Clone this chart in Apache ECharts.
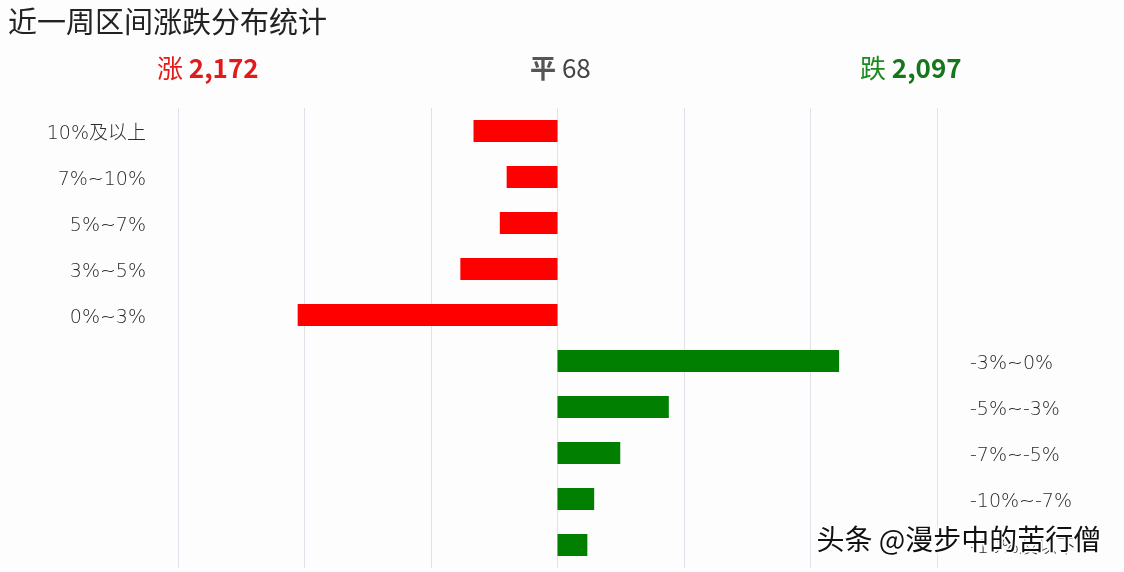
<!DOCTYPE html>
<html>
<head>
<meta charset="utf-8">
<script src="https://cdn.jsdelivr.net/npm/echarts@6/dist/echarts.min.js"></script>
<style>
html,body{margin:0;padding:0;background:#fdfdfe;}
#chart{width:1124px;height:572px;}
</style>
</head>
<body>
<div id="chart"></div>
<script>
var titleText = '近一周区间涨跌分布统计';
var upLabel = '涨', flatLabel = '平', downLabel = '跌';
var upTotal = 2172, flatTotal = 68, downTotal = 2097;
var upCategories = ['10%及以上', '7%~10%', '5%~7%', '3%~5%', '0%~3%'];
var downCategories = ['-3%~0%', '-5%~-3%', '-7%~-5%', '-10%~-7%', '-10%及以下'];
var upValues = [332, 201, 228, 384, 1027];
var downValues = [1113, 440, 248, 145, 118];
var watermark = '头条 @漫步中的苦行僧';

var categories = upCategories.concat(downCategories);
var nUp = upCategories.length;
var redData = categories.map(function (c, i) { return i < nUp ? -upValues[i] : '-'; });
var greenData = categories.map(function (c, i) { return i >= nUp ? downValues[i - nUp] : '-'; });
function fmt(n) { return n.toLocaleString('en-US'); }

var CJK = 'Noto Sans CJK SC';
var richLabel = { t: { fontSize: 19, color: '#2a2a2a', fontWeight: 200, fontFamily: '"DejaVu Sans", "Noto Sans CJK SC"', padding: [6, 0, 0, 0] } };
var chart = echarts.init(document.getElementById('chart'));
chart.setOption({
  animation: false,
  backgroundColor: '#fdfdfe',
  title: {
    text: titleText, left: 3, top: 2,
    textStyle: { fontSize: 29, fontWeight: 'normal', color: '#222', fontFamily: CJK }
  },
  graphic: [
    { type: 'text', left: 157, top: 55, style: { rich: { a: { fontSize: 26, fontWeight: 'normal', fill: '#e01b1b', fontFamily: CJK }, b: { fontSize: 26, fontWeight: 'bold', fill: '#e01b1b', fontFamily: CJK } }, text: '{a|' + upLabel + ' }{b|' + fmt(upTotal) + '}' } },
    { type: 'text', left: 530, top: 55, style: { rich: { a: { fontSize: 26, fontWeight: 'bold', fill: '#555', fontFamily: CJK }, b: { fontSize: 26, fontWeight: 'normal', fill: '#444', fontFamily: CJK } }, text: '{a|' + flatLabel + ' }{b|' + fmt(flatTotal) + '}' } },
    { type: 'text', left: 860, top: 55, style: { rich: { a: { fontSize: 26, fontWeight: 'normal', fill: '#1e8a1e', fontFamily: CJK }, b: { fontSize: 26, fontWeight: 'bold', fill: '#16761a', fontFamily: CJK } }, text: '{a|' + downLabel + ' }{b|' + fmt(downTotal) + '}' } },
    { type: 'text', left: 815, top: 524, z: 100, style: { text: watermark, fontSize: 28, fill: '#111', stroke: '#fff', lineWidth: 3, fontFamily: CJK } }
  ],
  grid: { left: 178, right: 187, top: 108, bottom: 4 },
  xAxis: {
    type: 'value', min: -1500, max: 1500, interval: 500,
    axisLabel: { show: false }, axisLine: { show: false }, axisTick: { show: false },
    splitLine: { lineStyle: { color: '#dfe2e8', width: 1 } }
  },
  yAxis: [
    {
      type: 'category', data: categories, inverse: true, position: 'left',
      axisLine: { show: false }, axisTick: { show: false },
      axisLabel: { margin: 32, interval: 0, rich: richLabel, formatter: function (v, i) { return i < nUp ? '{t|' + v + '}' : ''; } }
    },
    {
      type: 'category', data: categories, inverse: true, position: 'right',
      axisLine: { show: false }, axisTick: { show: false },
      axisLabel: { margin: 33, interval: 0, rich: richLabel, formatter: function (v, i) { return i >= nUp ? '{t|' + v + '}' : ''; } }
    }
  ],
  series: [
    { type: 'bar', data: redData, barWidth: 22, barGap: '-100%', itemStyle: { color: '#ff0000' } },
    { type: 'bar', data: greenData, barWidth: 22, barGap: '-100%', itemStyle: { color: '#007f00' } }
  ]
});
</script>
</body>
</html>
